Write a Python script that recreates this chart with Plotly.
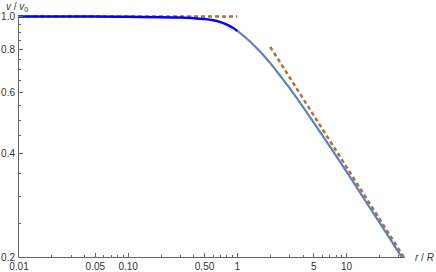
import numpy as np
import plotly.graph_objects as go

# curve: v/v0 vs r/R
r_inner = [0.01, 0.05, 0.1, 0.2, 0.3, 0.4, 0.5, 0.6, 0.7, 0.8, 0.9, 1.0]
v_inner = [1.0, 0.9995, 0.998, 0.996, 0.993, 0.989, 0.983, 0.975, 0.963, 0.948, 0.929, 0.908]
r_outer = [1.0, 1.2, 1.4, 1.7, 2.0, 2.5, 3.0, 4.0, 5.0, 7.0, 10, 15, 20, 34]
v_outer = [0.908, 0.866, 0.828, 0.777, 0.732, 0.669, 0.620, 0.545, 0.492, 0.420, 0.354, 0.290, 0.252, 0.194]
# asymptotes
r_flat = [0.01, 1.0]
v_flat = [1.0, 1.0]
r_tail = [2.0, 34]
v_tail = [0.816, 0.198]

x_major = [0.01, 0.05, 0.1, 0.5, 1, 5, 10]
x_major_text = ["0.01", "0.05", "0.10", "0.50", "1", "5", "10"]
x_minor = [0.02, 0.03, 0.04, 0.06, 0.07, 0.08, 0.09, 0.2, 0.3, 0.4, 0.6, 0.7, 0.8, 0.9,
           2, 3, 4, 6, 7, 8, 9, 20, 30]
y_major = [0.2, 0.4, 0.6, 0.8, 1.0]
y_major_text = ["0.2", "0.4", "0.6", "0.8", "1.0"]
y_minor = [0.25, 0.3, 0.35, 0.45, 0.5, 0.55, 0.65, 0.7, 0.75, 0.85, 0.9, 0.95]

dash_col = "#a8733c"
fig = go.Figure()
fig.add_trace(go.Scatter(x=r_flat, y=v_flat, mode="lines",
                         line=dict(color=dash_col, width=2.5, dash="4px,3px")))
fig.add_trace(go.Scatter(x=r_tail, y=v_tail, mode="lines",
                         line=dict(color=dash_col, width=2.5, dash="4px,3px")))
fig.add_trace(go.Scatter(x=r_outer, y=v_outer, mode="lines", line_shape="spline",
                         line=dict(color="#5e81b5", width=2.2)))
fig.add_trace(go.Scatter(x=r_inner, y=v_inner, mode="lines", line_shape="spline",
                         line=dict(color="#0000ff", width=2.5)))

axis_font = dict(family="Liberation Sans, Arial, sans-serif", size=10, color="#333333")
fig.update_layout(
    width=436, height=272,
    margin=dict(l=19, r=31, t=15, b=15),
    plot_bgcolor="white", paper_bgcolor="white",
    showlegend=False,
    xaxis=dict(type="log", range=[-2, 1.535], showgrid=False, zeroline=False,
               automargin=False,
               showline=True, linecolor="#666666", linewidth=1,
               tickmode="array", tickvals=x_major, ticktext=x_major_text,
               ticks="inside", ticklen=4, tickcolor="#666666", tickfont=axis_font,
               ticklabelstandoff=0,
               minor=dict(tickmode="array", tickvals=x_minor, ticks="inside",
                          ticklen=2, tickcolor="#666666")),
    yaxis=dict(type="log", range=[np.log10(0.2), 0.0045], showgrid=False, zeroline=False,
               automargin=False,
               showline=True, linecolor="#666666", linewidth=1,
               tickmode="array", tickvals=y_major, ticktext=y_major_text,
               ticks="inside", ticklen=4, tickcolor="#666666", tickfont=axis_font,
               ticklabelstandoff=1,
               minor=dict(tickmode="array", tickvals=y_minor, ticks="inside",
                          ticklen=2, tickcolor="#666666")),
    annotations=[
        dict(text="<i>v</i> / <i>v</i><sub>0</sub>", x=0.0, y=1.035, xref="paper", yref="paper",
             xanchor="center", yanchor="middle", showarrow=False, font=axis_font, xshift=-2),
        dict(text="<i>r</i> / <i>R</i>", x=1, y=0, xref="paper", yref="paper",
             xanchor="left", yanchor="middle", showarrow=False, font=axis_font, xshift=8),
    ],
)
fig.write_html("out.html", config={"displayModeBar": False},
               post_script="document.body.style.margin='0';document.body.style.overflow='hidden';")
